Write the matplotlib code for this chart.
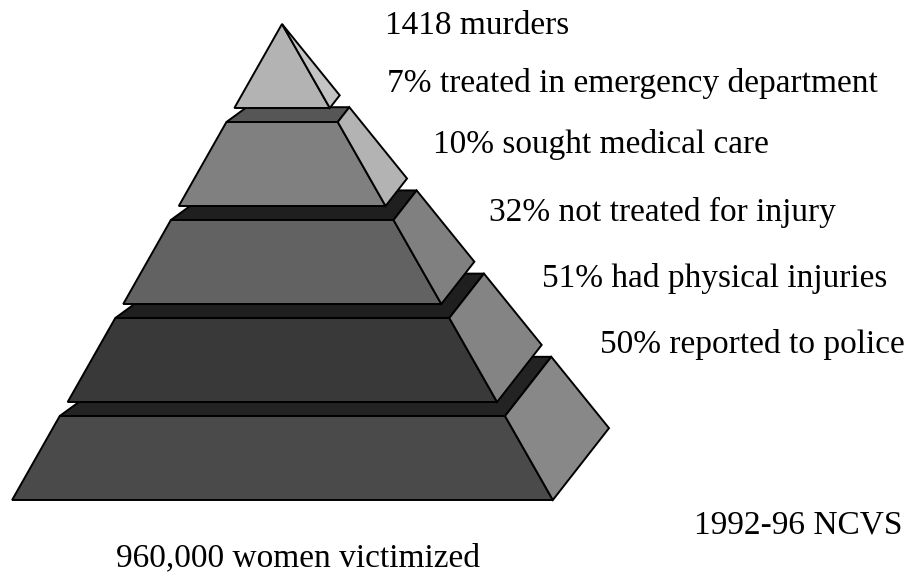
import numpy as np
import matplotlib
matplotlib.use("Agg")
import matplotlib.pyplot as plt
from matplotlib.patches import Polygon

# data
step_labels = ["1418 murders",
               "7% treated in emergency department",
               "10% sought medical care",
               "32% not treated for injury",
               "51% had physical injuries",
               "50% reported to police"]
base_label = "960,000 women victimized"
source_label = "1992-96 NCVS"

# tier colours, top (triangle) to bottom: front, right side, top face
front_cols = ["#b3b3b3", "#808080", "#626262", "#393939", "#4a4a4a"]
side_cols = ["#c4c4c4", "#b3b3b3", "#808080", "#848484", "#888888"]
top_cols = [None, "#565656", "#1f1f1f", "#1f1f1f", "#232323"]

# pyramid geometry in pixel units
apex = np.array([282.0, 24.0])
tier_h, gap = 84.0, 14.0
fl = np.array([-0.567, 1.0])
fr = np.array([0.569, 1.0])
br = np.array([0.687, 0.849])
bl = np.array([-0.36, 0.849])


def pt(direc, d):
    return apex + direc * d


fig = plt.figure(figsize=(9.1, 5.74), dpi=100)
ax = fig.add_axes([0, 0, 1, 1])
ax.set_xlim(0, 910)
ax.set_ylim(574, 0)
ax.axis("off")

n = len(front_cols)
lw = 1.4
# draw from the bottom tier up so upper tiers cover lower ones
for i in reversed(range(n)):
    d0 = i * (tier_h + gap)
    d1 = d0 + tier_h
    z = 10 + (n - i) * 3
    if i == 0:
        front = [apex, pt(fl, d1), pt(fr, d1)]
        side = [apex, pt(fr, d1), pt(br, d1)]
    else:
        top = [pt(fl, d0), pt(fr, d0), pt(br, d0), pt(bl, d0)]
        ax.add_patch(Polygon(top, closed=True, fc=top_cols[i], ec="black",
                             lw=lw, joinstyle="miter", zorder=z))
        front = [pt(fl, d0), pt(fr, d0), pt(fr, d1), pt(fl, d1)]
        side = [pt(fr, d0), pt(br, d0), pt(br, d1), pt(fr, d1)]
    ax.add_patch(Polygon(front, closed=True, fc=front_cols[i], ec="black",
                         lw=lw, joinstyle="miter", zorder=z + 1))
    ax.add_patch(Polygon(side, closed=True, fc=side_cols[i], ec="black",
                         lw=lw, joinstyle="miter", zorder=z + 1))

font = dict(family="Liberation Serif", fontsize=24, color="black")
label_xy = [(385, 34), (387, 92), (433, 153), (489, 221), (542, 287), (600, 353)]
for (x, y), s in zip(label_xy, step_labels):
    ax.text(x, y, s, ha="left", va="baseline", **font)
ax.text(903, 533, source_label, ha="right", va="baseline", **font)
ax.text(116, 566, base_label, ha="left", va="baseline", **font)

fig.savefig("out.png", dpi=100)
